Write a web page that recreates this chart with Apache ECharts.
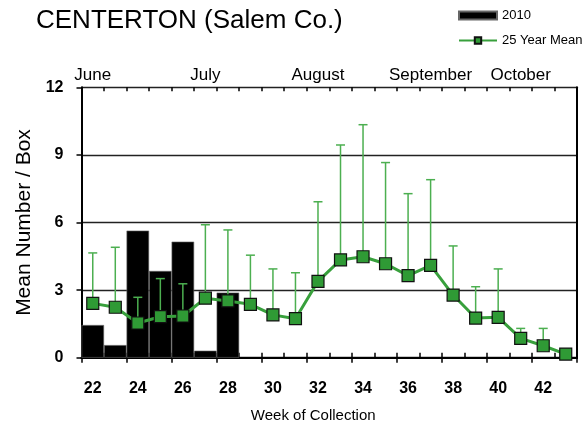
<!DOCTYPE html>
<html>
<head>
<meta charset="utf-8">
<script src="https://cdn.jsdelivr.net/npm/echarts@6/dist/echarts.min.js"></script>
<style>
html,body{margin:0;padding:0;background:#fff;}
#chart{width:583px;height:426px;}
</style>
</head>
<body>
<div id="chart"></div>
<script>
const weeks = ['22','23','24','25','26','27','28','29','30','31','32','33','34','35','36','37','38','39','40','41','42','43'];
const bars2010 = [1.45,0.56,5.64,3.85,5.15,0.31,2.89,null,null,null,null,null,null,null,null,null,null,null,null,null,null,null];
const mean25 = [2.41,2.24,1.54,1.82,1.85,2.64,2.52,2.37,1.90,1.73,3.39,4.34,4.48,4.17,3.64,4.10,2.78,1.76,1.79,0.86,0.53,0.16];
const upper25 = [4.65,4.90,2.68,3.51,3.28,5.90,5.67,4.55,3.94,3.77,6.92,9.44,10.34,8.66,7.28,7.90,4.96,3.15,3.94,1.30,1.30,null];
const yTicks = [0,3,6,9,12];
const months = ['June','July','August','September','October'];
const monthWeeks = ['22','27','32','37','41'];

const FONT = 'Liberation Sans, Arial, sans-serif';
const GREEN = '#38a03c';
const ERR = '#4caf50';

const errData = weeks.map((w,i)=>[w, mean25[i], upper25[i]]).filter(d=>d[2]!=null);

const gridBox = {left:81.5, right:6, top:87.3, bottom:68.3, containLabel:false, outerBoundsMode:'none'};

const chart = echarts.init(document.getElementById('chart'), null, {renderer:'canvas'});
chart.setOption({
  animation:false,
  backgroundColor:'#fff',
  title:{
    text:'CENTERTON (Salem Co.)',
    left:36, top:8, padding:0,
    textStyle:{fontFamily:FONT, fontSize:26, fontWeight:'normal', color:'#000'}
  },
  legend:[
    {data:[{name:'2010', icon:'rect'}], left:458, top:9, padding:0, itemWidth:38, itemHeight:8, itemGap:5,
     textStyle:{fontFamily:FONT, fontSize:13, color:'#000'}},
    {data:['25 Year Mean'], left:458, top:34, padding:0, itemWidth:38, itemHeight:8, itemGap:5,
     textStyle:{fontFamily:FONT, fontSize:13, color:'#000'}}
  ],
  grid:[Object.assign({}, gridBox), Object.assign({}, gridBox)],
  xAxis:[
    {type:'category', data:weeks, gridIndex:0, position:'bottom',
     axisLine:{lineStyle:{color:'#000', width:2}},
     axisTick:{show:true, inside:false, length:5, lineStyle:{color:'#000', width:1.5}},
     axisLabel:{interval:1, margin:23, fontFamily:FONT, fontSize:16, fontWeight:'bold', color:'#000'},
     name:'Week of Collection', nameLocation:'middle', nameGap:51,
     nameTextStyle:{fontFamily:FONT, fontSize:15, color:'#000', padding:[0,32,0,0]},
     splitLine:{show:false}},
    {type:'category', data:weeks, gridIndex:0, position:'top',
     axisLine:{lineStyle:{color:'#000', width:2}},
     axisTick:{show:true, inside:false, length:4, lineStyle:{color:'#000', width:1.5}},
     axisLabel:{interval:0, margin:3, fontFamily:FONT, fontSize:17, color:'#000',
       formatter:function(v){const k=monthWeeks.indexOf(v); return k>=0?months[k]:'';}},
     splitLine:{show:false}},
    {type:'category', data:weeks, gridIndex:1, position:'bottom',
     axisLine:{show:false},
     axisTick:{show:true, inside:true, length:5, lineStyle:{color:'#000', width:1.5}},
     axisLabel:{show:false}, splitLine:{show:false}},
    {type:'category', data:weeks, gridIndex:1, position:'top',
     axisLine:{show:false},
     axisTick:{show:true, inside:true, length:4, lineStyle:{color:'#000', width:1.5}},
     axisLabel:{show:false}, splitLine:{show:false}}
  ],
  yAxis:[
    {type:'value', gridIndex:0, position:'left', min:yTicks[0], max:yTicks[yTicks.length-1], interval:yTicks[1]-yTicks[0],
     axisLine:{show:true, lineStyle:{color:'#000', width:2}},
     axisTick:{show:true, inside:false, length:5, lineStyle:{color:'#000', width:1.5}},
     axisLabel:{margin:18, fontFamily:FONT, fontSize:16, fontWeight:'bold', color:'#000'},
     splitLine:{show:true, lineStyle:{color:'#222', width:1.3}},
     name:'Mean Number / Box', nameLocation:'middle', nameGap:42, nameRotate:90,
     nameTextStyle:{fontFamily:FONT, fontSize:21, color:'#000'}},
    {type:'value', gridIndex:0, position:'right', min:yTicks[0], max:yTicks[yTicks.length-1], interval:yTicks[1]-yTicks[0],
     axisLine:{show:true, lineStyle:{color:'#000', width:2}},
     axisTick:{show:false}, axisLabel:{show:false}, splitLine:{show:false}},
    {type:'value', gridIndex:1, min:yTicks[0], max:yTicks[yTicks.length-1], show:false}
  ],
  series:[
    {name:'2010', type:'bar', xAxisIndex:0, yAxisIndex:0, data:bars2010,
     barCategoryGap:'0%', barGap:'0%',
     itemStyle:{color:'#000', borderColor:'#666', borderWidth:0.6}, z:2},
    {name:'err', type:'custom', xAxisIndex:0, yAxisIndex:0, data:errData, z:3,
     encode:{x:0, y:[1,2]},
     renderItem:function(params, api){
       const lo = api.coord([api.value(0), api.value(1)]);
       const hi = api.coord([api.value(0), api.value(2)]);
       const half = 4.5;
       return {type:'group', children:[
         {type:'line', shape:{x1:lo[0], y1:lo[1], x2:hi[0], y2:hi[1]}, style:{stroke:ERR, lineWidth:1.5}},
         {type:'line', shape:{x1:hi[0]-half, y1:hi[1], x2:hi[0]+half, y2:hi[1]}, style:{stroke:ERR, lineWidth:1.5}}
       ]};
     }},
    {name:'25 Year Mean', type:'line', xAxisIndex:0, yAxisIndex:0, data:mean25, z:4,
     symbol:'rect', symbolSize:12, showAllSymbol:true,
     lineStyle:{color:GREEN, width:3},
     itemStyle:{color:'#2f9a35', borderColor:'#111', borderWidth:1.2}}
  ]
});
</script>
</body>
</html>
